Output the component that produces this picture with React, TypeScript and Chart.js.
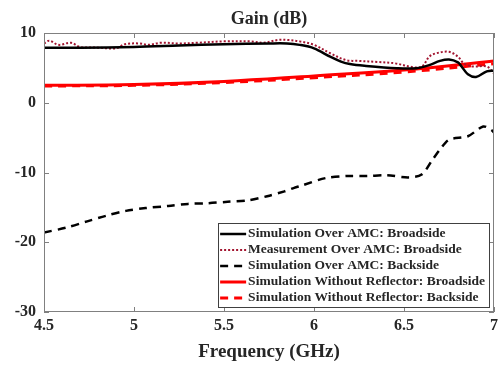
import React, { useEffect, useRef } from "react";
import { Chart, registerables } from "chart.js";
Chart.register(...registerables);

const chartTitle = "Gain (dB)";
const xAxisTitle = "Frequency (GHz)";
const xTickValues = [4.5, 5, 5.5, 6, 6.5, 7];
const yTickValues = [-30, -20, -10, 0, 10];

const seriesLabels = [
  "Simulation Over AMC: Broadside",
  "Measurement Over AMC: Broadside",
  "Simulation Over AMC: Backside",
  "Simulation Without Reflector: Broadside",
  "Simulation Without Reflector: Backside",
];

const amcBroadFreq = [4.5, 4.7, 5.0, 5.25, 5.5, 5.75, 5.85, 5.92, 6.0, 6.09, 6.15, 6.2, 6.28, 6.46, 6.57, 6.64, 6.7, 6.75, 6.8, 6.82, 6.855, 6.9, 6.96, 7.0];
const amcBroadGain = [7.9, 7.9, 8.0, 8.2, 8.4, 8.5, 8.5, 8.3, 7.8, 6.6, 5.9, 5.55, 5.3, 4.95, 4.95, 5.4, 6.0, 6.2, 5.8, 5.2, 4.1, 3.7, 4.5, 4.6];

const measFreq = [4.5, 4.53, 4.58, 4.65, 4.7, 4.8, 4.9, 4.95, 5.03, 5.08, 5.15, 5.25, 5.35, 5.5, 5.65, 5.72, 5.8, 5.86, 5.92, 6.0, 6.09, 6.18, 6.25, 6.35, 6.45, 6.55, 6.6, 6.64, 6.68, 6.75, 6.8, 6.83, 6.88, 6.96, 7.0];
const measGain = [8.5, 8.9, 8.3, 8.6, 8.0, 7.9, 7.8, 8.4, 8.5, 8.3, 8.6, 8.5, 8.6, 8.8, 8.8, 8.6, 9.0, 9.0, 8.8, 8.3, 7.1, 6.1, 6.0, 5.85, 5.65, 5.1, 5.2, 6.6, 7.1, 7.3, 6.6, 5.7, 5.2, 5.2, 4.2];

const amcBackFreq = [4.5, 4.625, 4.74, 4.845, 4.955, 5.065, 5.19, 5.3, 5.41, 5.52, 5.63, 5.74, 5.836, 5.89, 5.928, 6.064, 6.185, 6.295, 6.405, 6.525, 6.598, 6.66, 6.7, 6.75, 6.855, 6.94, 6.985, 7.0];
const amcBackGain = [-18.6, -17.9, -17.0, -16.2, -15.5, -15.1, -14.8, -14.5, -14.4, -14.2, -14.0, -13.4, -12.7, -12.2, -11.9, -10.8, -10.5, -10.5, -10.4, -10.7, -10.3, -8.1, -6.7, -5.3, -4.8, -3.4, -3.9, -4.3];

const noRefBroadFreq = [4.5, 5.0, 5.5, 6.0, 6.5, 7.0];
const noRefBroadGain = [2.5, 2.6, 3.05, 3.85, 4.7, 6.0];

const noRefBackFreq = [4.5, 5.0, 5.5, 6.0, 6.5, 7.0];
const noRefBackGain = [2.4, 2.5, 2.9, 3.6, 4.4, 5.6];

const pts = (xs: number[], ys: number[]) => xs.map((x, i) => ({ x, y: ys[i] }));

const FONT = "'Liberation Serif', 'Times New Roman', serif";
const TEXT = "#262626";
const AXIS = "#808080";

const decorPlugin = {
  id: "decor",
  afterDatasetsDraw(chart: any) {
    const { ctx, chartArea: a, scales } = chart;
    const xs = scales.x, ys = scales.y;
    ctx.save();
    // box
    ctx.strokeStyle = AXIS;
    ctx.lineWidth = 1;
    ctx.strokeRect(a.left + 0.5, a.top + 0.5, a.right - a.left - 1, a.bottom - a.top - 1);
    // inward ticks
    const tl = 5;
    ctx.beginPath();
    xTickValues.forEach((v) => {
      const px = Math.round(xs.getPixelForValue(v)) + 0.5;
      ctx.moveTo(px, a.bottom);
      ctx.lineTo(px, a.bottom - tl);
      ctx.moveTo(px, a.top);
      ctx.lineTo(px, a.top + tl);
    });
    yTickValues.forEach((v) => {
      const py = Math.round(ys.getPixelForValue(v)) + 0.5;
      ctx.moveTo(a.left, py);
      ctx.lineTo(a.left + tl, py);
      ctx.moveTo(a.right, py);
      ctx.lineTo(a.right - tl, py);
    });
    ctx.stroke();

    // title
    ctx.fillStyle = TEXT;
    ctx.textAlign = "center";
    ctx.textBaseline = "middle";
    ctx.font = `bold 18px ${FONT}`;
    ctx.fillText(chartTitle, (a.left + a.right) / 2, 19);
    ctx.font = `bold 19px ${FONT}`;
    ctx.fillText(xAxisTitle, (a.left + a.right) / 2, 352);

    // legend
    ctx.font = `bold 13.5px ${FONT}`;
    const sample = 26;
    const rowH = 16;
    let maxW = 0;
    chart.data.datasets.forEach((d: any) => {
      maxW = Math.max(maxW, ctx.measureText(d.label).width);
    });
    const boxW = 2 + sample + 2 + maxW + 4;
    const boxH = rowH * chart.data.datasets.length + 4;
    const bx = a.right - 5 - boxW;
    const by = a.bottom - 5 - boxH;
    ctx.fillStyle = "#ffffff";
    ctx.fillRect(bx, by, boxW, boxH);
    ctx.strokeStyle = "#404040";
    ctx.lineWidth = 1;
    ctx.strokeRect(Math.round(bx) + 0.5, Math.round(by) + 0.5, Math.round(boxW), Math.round(boxH));
    chart.data.datasets.forEach((d: any, i: number) => {
      const cy = by + 10 + i * rowH + 1;
      ctx.save();
      ctx.strokeStyle = d.borderColor;
      ctx.lineWidth = d.borderWidth;
      ctx.setLineDash(d.borderDash || []);
      ctx.beginPath();
      ctx.moveTo(bx + 2, cy);
      ctx.lineTo(bx + 2 + sample, cy);
      ctx.stroke();
      ctx.restore();
      ctx.fillStyle = TEXT;
      ctx.textAlign = "left";
      ctx.textBaseline = "middle";
      ctx.fillText(d.label, bx + 4 + sample, cy);
    });
    ctx.restore();
  },
};

export default function App() {
  const ref = useRef<HTMLCanvasElement | null>(null);
  useEffect(() => {
    if (!ref.current) return;
    const chart = new Chart(ref.current, {
      type: "line",
      data: {
        datasets: [
          { label: seriesLabels[0], data: pts(amcBroadFreq, amcBroadGain), borderColor: "#000000", borderWidth: 2.5, pointRadius: 0, tension: 0.35 },
          { label: seriesLabels[1], data: pts(measFreq, measGain), borderColor: "#A2142F", borderWidth: 2, borderDash: [2, 2], pointRadius: 0, tension: 0.35 },
          { label: seriesLabels[2], data: pts(amcBackFreq, amcBackGain), borderColor: "#000000", borderWidth: 2.5, borderDash: [8, 6], pointRadius: 0, tension: 0.3 },
          { label: seriesLabels[3], data: pts(noRefBroadFreq, noRefBroadGain), borderColor: "#FF0000", borderWidth: 3, pointRadius: 0, tension: 0.4 },
          { label: seriesLabels[4], data: pts(noRefBackFreq, noRefBackGain), borderColor: "#FF0000", borderWidth: 3, borderDash: [8, 6], pointRadius: 0, tension: 0.4 },
        ],
      },
      options: {
        animation: false,
        responsive: false,
        maintainAspectRatio: false,
        layout: { padding: { top: 33, right: 4, left: 0, bottom: 0 } },
        plugins: { legend: { display: false }, title: { display: false }, tooltip: { enabled: false } },
        scales: {
          x: {
            type: "linear",
            min: 4.5,
            max: 7,
            afterBuildTicks: (s: any) => { s.ticks = xTickValues.map((v) => ({ value: v })); },
            afterFit: (s: any) => { s.height = 53; },
            grid: { display: false, drawTicks: false },
            border: { display: false },
            ticks: { padding: 4, color: TEXT, font: { family: FONT, size: 16, weight: "bold" }, callback: (v: any) => String(v), maxRotation: 0 },
          },
          y: {
            type: "linear",
            min: -30,
            max: 10,
            afterBuildTicks: (s: any) => { s.ticks = yTickValues.map((v) => ({ value: v })); },
            afterFit: (s: any) => { s.width = 44; },
            grid: { display: false, drawTicks: false },
            border: { display: false },
            ticks: { padding: 8, color: TEXT, font: { family: FONT, size: 16, weight: "bold" }, callback: (v: any) => String(v) },
          },
        },
      },
      plugins: [decorPlugin],
    });
    return () => chart.destroy();
  }, []);
  return (
    <div style={{ position: "fixed", left: 0, top: 0, width: 502, height: 365, background: "#fff" }}>
      <canvas ref={ref} width={502} height={365} style={{ width: 502, height: 365, display: "block" }} />
    </div>
  );
}
